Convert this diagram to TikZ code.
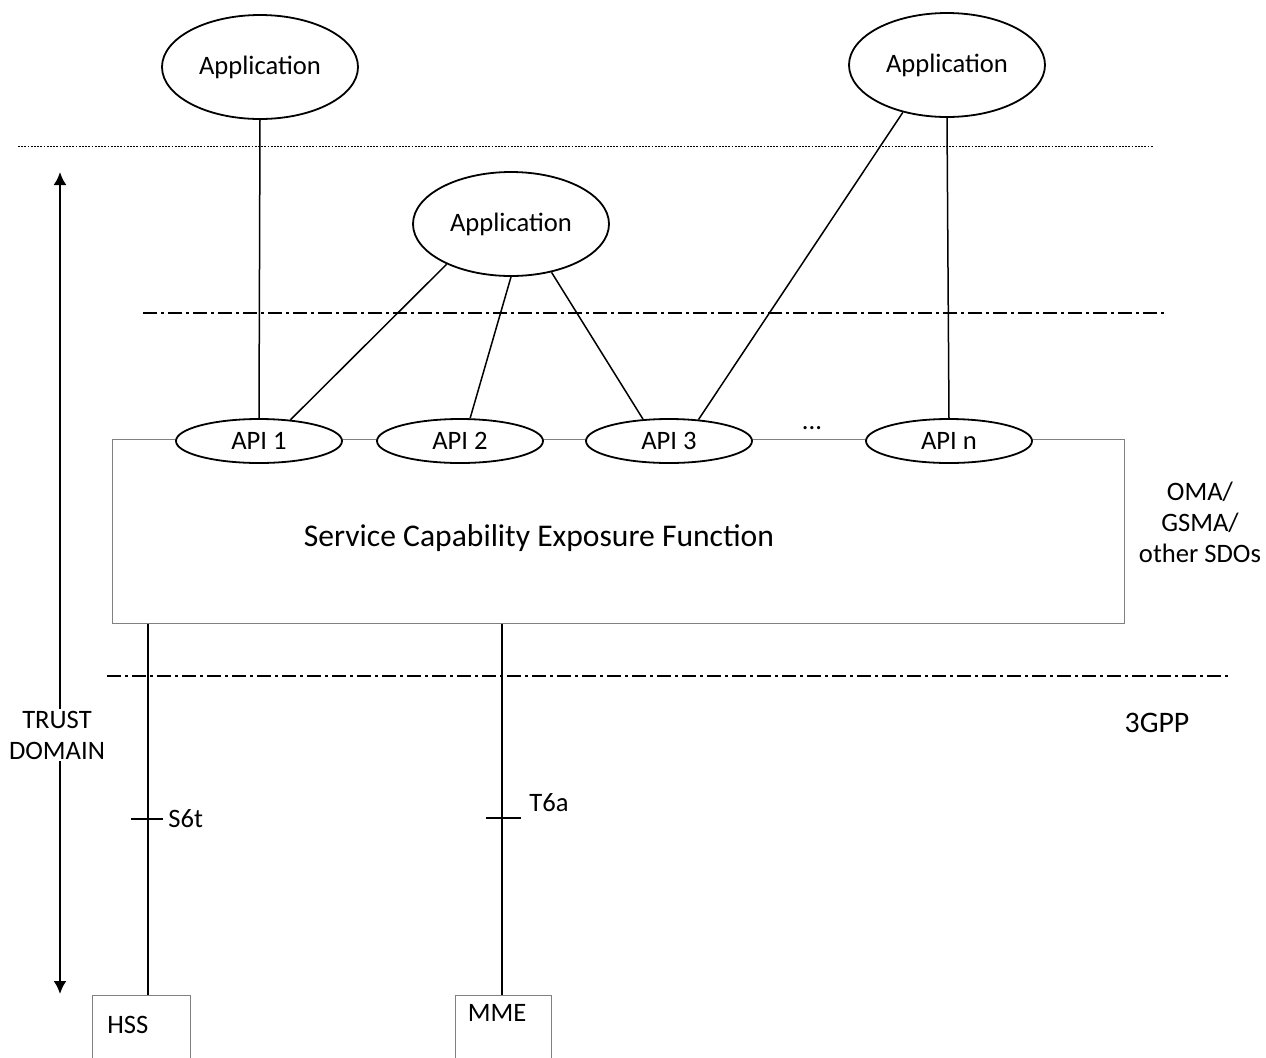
\documentclass[tikz,border=0pt]{standalone}
\usepackage{fontspec}
\setmainfont{Carlito}
\usetikzlibrary{shapes.geometric,arrows.meta,calc}
\begin{document}
\begin{tikzpicture}[x=0.5pt,y=-0.5pt,
  font=\fontsize{13.3}{15.5}\selectfont,
  app/.style={ellipse,draw,line width=0.9pt,fill=white,minimum width=98pt,minimum height=52pt,inner sep=0pt},
  api/.style={ellipse,draw,line width=0.9pt,fill=white,minimum width=83pt,minimum height=22pt,inner sep=0pt},
  conn/.style={line width=0.75pt},
  dashdot/.style={line width=0.9pt,dash pattern=on 7pt off 2pt on 1.5pt off 2pt},
  dotline/.style={line width=0.45pt,dash pattern=on 0.9pt off 0.7pt},
  graybox/.style={draw=gray,line width=0.5pt,inner sep=0pt},
  lbl/.style={inner sep=1pt}]
\useasboundingbox (0,0) rectangle (1266,1057);
% separator lines
\coordinate (dl) at (18,146); \coordinate (dr) at (1153,146);
\draw[dotline] (dl) -- (dr);
\coordinate (d1l) at (143,313); \coordinate (d1r) at (1167,313);
\draw[dashdot] (d1l) -- (d1r);
\coordinate (d2l) at (107,676); \coordinate (d2r) at (1230,676);
\draw[dashdot] (d2l) -- (d2r);
% trust domain arrow
\coordinate (atop) at (60,172); \coordinate (abot) at (60,994);
\draw[line width=1.1pt,{Latex[length=6.5pt,width=6.5pt]}-{Latex[length=6.5pt,width=6.5pt]}] (atop) -- (abot);
\node[align=center,fill=white,inner sep=1pt] (trust) at (57,735) {TRUST\\DOMAIN};
% applications
\node[app] (app1) at (260,67) {Application};
\node[app] (app2) at (947,65) {Application};
\node[app] (app3) at (511,224) {Application};
% SCEF
\node[graybox,minimum width=506pt,minimum height=92pt] (scef) at (618,531) {};
\node[lbl,font=\fontsize{15.8}{18}\selectfont] (sceftxt) at (539,538) {Service Capability Exposure Function};
\node[api] (api1) at (259,441) {API 1};
\node[api] (api2) at (460,441) {API 2};
\node[api] (api3) at (669,441) {API 3};
\node[api] (apin) at (949,441) {API n};
\node[lbl] (dots) at (812,428) {...};
% connectors app -> api
\draw[conn] (app1.south) -- (api1.north);
\draw[conn] (app3.212) -- (api1.34);
\draw[conn] (app3.south) -- (api2.66);
\draw[conn] (app3.310) -- (api3.140);
\draw[conn] (app2.227) -- (api3.36);
\draw[conn] (app2.south) -- (apin.north);
% side labels
\node[align=center,lbl] (oma) at (1200,522) {OMA/\\GSMA/\\other SDOs};
\node[lbl,font=\fontsize{14.9}{17}\selectfont] (tgpp) at (1157,723) {3GPP};
% HSS and MME
\node[graybox,minimum width=49pt,minimum height=45pt,anchor=north] (hss) at (141,995) {};
\node[lbl,anchor=west] (hsstxt) at (105,1025) {HSS};
\node[graybox,minimum width=48pt,minimum height=45pt,anchor=north] (mme) at (503,995) {};
\node[lbl] (mmetxt) at (497,1013) {MME};
\coordinate (hssx) at (148,0);
\coordinate (mmex) at (502,0);
\draw[conn] (scef.south -| hssx) -- (hss.north -| hssx);
\draw[conn] (scef.south -| mmex) -- (mme.north -| mmex);
% reference point ticks
\coordinate (tk1) at (148,819);
\draw[conn] ($(tk1)+(-17,0)$) -- ($(tk1)+(15,0)$);
\node[lbl,anchor=west] (s6t) at (166,819) {S6t};
\coordinate (tk2) at (502,818);
\draw[conn] ($(tk2)+(-16,0)$) -- ($(tk2)+(19,0)$);
\node[lbl,anchor=west] (t6a) at (527,803) {T6a};
\end{tikzpicture}
\end{document}
